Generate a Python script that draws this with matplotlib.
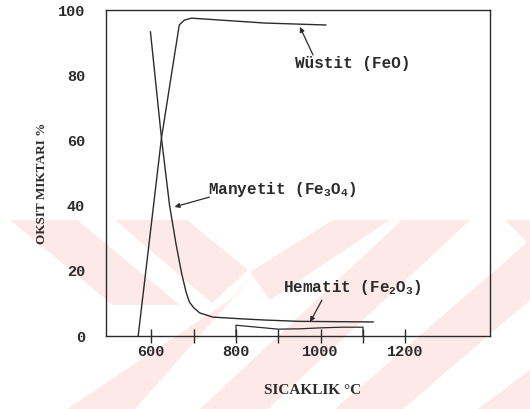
import matplotlib
matplotlib.use("Agg")
import matplotlib.pyplot as plt
from matplotlib.patches import Polygon

# -----------------------------
# Data
# -----------------------------
wustit_t = [569, 624, 666, 678, 695, 868, 1012]
wustit_v = [0.0, 60.7, 95.4, 96.9, 97.5, 96.0, 95.4]

manyetit_t = [598, 624, 643, 658, 671, 682, 690, 700, 714, 745, 808, 868, 946, 1124]
manyetit_v = [93.3, 60.7, 40.2, 28.5, 19.6, 13.5, 10.4, 8.7, 7.1, 5.8, 5.3, 4.9, 4.5, 4.3]

hematit_t = [800, 800, 850, 900, 950, 1000, 1050, 1100, 1100]
hematit_v = [0.0, 3.3, 2.7, 2.1, 2.2, 2.5, 2.7, 2.7, 0.0]

x_major = [600, 800, 1000, 1200]
x_minor = [700, 900, 1100]
y_major = [0, 20, 40, 60, 80, 100]
y_minor = [20, 40, 60, 80]

W, H = 530, 409
INK = "#2b2b2b"
PINK = "#fdeae8"

plt.rcParams["mathtext.fontset"] = "custom"
plt.rcParams["mathtext.rm"] = "Liberation Mono:bold"
plt.rcParams["mathtext.it"] = "Liberation Mono:bold"
plt.rcParams["mathtext.bf"] = "Liberation Mono:bold"


def px(x, y):
    # pixel position (y measured from the top) -> figure fraction
    return (x / W, 1 - y / H)


fig = plt.figure(figsize=(W / 100, H / 100), dpi=100)
fig.patch.set_facecolor("white")

# -----------------------------
# Background watermark (pale chevrons)
# -----------------------------
stripes = [
    [(10, 220), (77, 220), (180, 305), (113, 305)],
    [(115, 220), (187, 220), (248, 270), (212, 303)],
    [(250, 272), (333, 220), (390, 220), (270, 300)],
    [(67, 409), (135, 409), (265, 262), (230, 300)],
    [(200, 409), (268, 409), (470, 220), (402, 220)],
    [(335, 409), (403, 409), (530, 300), (530, 240)],
    [(478, 409), (530, 409), (530, 370)],
    [(505, 220), (530, 220), (530, 245)],
]
for verts in stripes:
    fig.add_artist(Polygon([px(*v) for v in verts], closed=True,
                           transform=fig.transFigure, facecolor=PINK,
                           edgecolor="none", zorder=0))

# -----------------------------
# Axes
# -----------------------------
ax = fig.add_axes([106 / W, 1 - 336 / H, (490 - 106) / W, (336 - 10) / H])
ax.patch.set_alpha(0)

ax.plot(wustit_t, wustit_v, color=INK, lw=1.0)
ax.plot(manyetit_t, manyetit_v, color=INK, lw=1.0)
ax.plot(hematit_t, hematit_v, color=INK, lw=0.9)

ax.set_xlim(493, 1400)
ax.set_ylim(0, 100)

for s in ax.spines.values():
    s.set_color(INK)
    s.set_linewidth(1.0)

tick_font = dict(family="Liberation Mono", weight="bold", size=11)

ax.set_xticks(x_major)
ax.set_xticks(x_minor, minor=True)
ax.set_xticklabels([str(v) for v in x_major], **tick_font)
ax.tick_params(axis="x", which="both", direction="inout", length=9.5,
               width=1.0, color=INK, pad=2, labelcolor=INK)

ax.set_yticks(y_major)
ax.set_yticks(y_minor, minor=True)
ax.set_yticklabels([str(v) for v in y_major], **tick_font)
ax.tick_params(axis="y", which="major", length=0, pad=15, labelcolor=INK)
ax.tick_params(axis="y", which="minor", direction="inout", length=13,
               width=1.0, color=INK)

# -----------------------------
# Curve labels and leaders
# -----------------------------
lab_font = dict(family="Liberation Mono", weight="bold", size=11.5, color=INK)
arrow = dict(arrowstyle="-|>", color=INK, lw=0.9, mutation_scale=7,
             shrinkA=0, shrinkB=0)

ax.text(939, 83.7, "Wüstit (FeO)", va="center", ha="left", **lab_font)
ax.annotate("", xy=(951, 94.8), xytext=(982, 86.2), arrowprops=arrow)

ax.text(733, 44.8, "Manyetit (Fe$_3$O$_4$)", va="center", ha="left", **lab_font)
ax.annotate("", xy=(655, 39.6), xytext=(737, 42.6), arrowprops=arrow)

ax.text(911, 15.0, "Hematit (Fe$_2$O$_3$)", va="center", ha="left", **lab_font)
ax.annotate("", xy=(975, 4.3), xytext=(1003, 11.0), arrowprops=arrow)

# -----------------------------
# Axis titles
# -----------------------------
fig.text(*px(42, 183), "OKSIT MIKTARI %", rotation=90, ha="center",
         va="center", family="Liberation Serif", weight="bold", size=9.5,
         color=INK)
fig.text(*px(313, 390), "SICAKLIK °C", ha="center", va="center",
         family="Liberation Serif", weight="bold", size=11, color=INK)

fig.savefig("out.png", dpi=100)
